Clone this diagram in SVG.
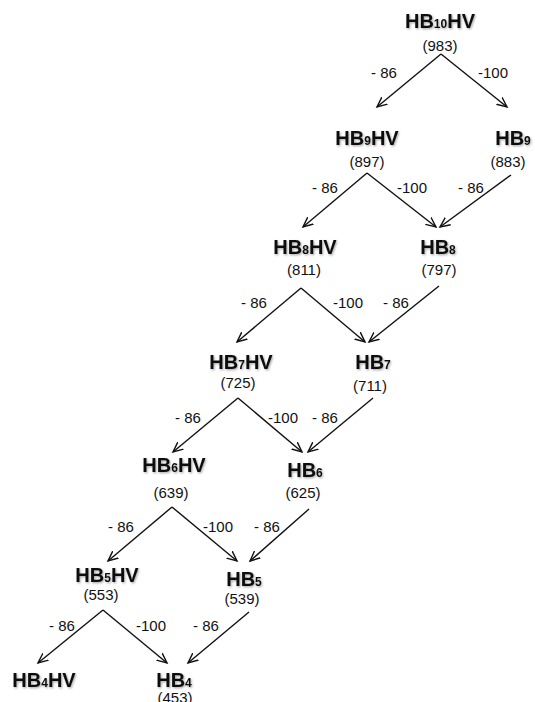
<svg xmlns="http://www.w3.org/2000/svg" width="535" height="702" viewBox="0 0 535 702">
  <style>
    .name { font-family: "Liberation Sans", Arial, sans-serif; font-weight: bold; font-size: 20px; fill: #111; text-anchor: middle; filter: url(#shadow); }
    .sub { font-size: 12px; }
    .val { font-family: "Liberation Sans", Arial, sans-serif; font-size: 15px; fill: #111; text-anchor: middle; }
    .lbl { font-family: "Liberation Sans", Arial, sans-serif; font-size: 15px; fill: #111; text-anchor: middle; }
    .edge { stroke: #111; stroke-width: 1.4; fill: none; marker-end: url(#arrow); }
  </style>
  <defs>
    <filter id="shadow" x="-20%" y="-30%" width="140%" height="160%">
      <feDropShadow dx="1" dy="1.2" stdDeviation="1" flood-color="#000" flood-opacity="0.35"/>
    </filter>
    <marker id="arrow" markerWidth="12" markerHeight="12" refX="10" refY="5" orient="auto" markerUnits="userSpaceOnUse" viewBox="0 0 12 10">
      <path d="M0,0.5 L10,5 L0,9.5" fill="none" stroke="#111" stroke-width="1.4"/>
    </marker>
  </defs>
  <rect width="535" height="702" fill="#fff"/>

  <!-- connectors -->
  <g id="connectors">
    <line class="edge" x1="441" y1="54" x2="377" y2="107"/>
    <line class="edge" x1="441" y1="54" x2="507" y2="107"/>

    <line class="edge" x1="367" y1="173" x2="303" y2="227"/>
    <line class="edge" x1="367" y1="173" x2="436" y2="227"/>
    <line class="edge" x1="511" y1="175" x2="440" y2="227"/>

    <line class="edge" x1="301" y1="288" x2="237" y2="342"/>
    <line class="edge" x1="301" y1="288" x2="365" y2="342"/>
    <line class="edge" x1="439" y1="286" x2="369" y2="342"/>

    <line class="edge" x1="238" y1="398" x2="173" y2="452"/>
    <line class="edge" x1="238" y1="398" x2="302" y2="452"/>
    <line class="edge" x1="373" y1="398" x2="308" y2="452"/>

    <line class="edge" x1="172" y1="507" x2="108" y2="561"/>
    <line class="edge" x1="172" y1="507" x2="237" y2="561"/>
    <line class="edge" x1="309" y1="509" x2="250" y2="561"/>

    <line class="edge" x1="103" y1="610" x2="38" y2="663"/>
    <line class="edge" x1="103" y1="610" x2="167" y2="663"/>
    <line class="edge" x1="249" y1="612" x2="188" y2="663"/>

    <!-- edge weights -->
    <text class="lbl" x="384" y="78">- 86</text>
    <text class="lbl" x="493" y="78">-100</text>

    <text class="lbl" x="325" y="193">- 86</text>
    <text class="lbl" x="412" y="193">-100</text>
    <text class="lbl" x="471" y="193">- 86</text>

    <text class="lbl" x="254" y="308">- 86</text>
    <text class="lbl" x="348" y="308">-100</text>
    <text class="lbl" x="396" y="308">- 86</text>

    <text class="lbl" x="188" y="423">- 86</text>
    <text class="lbl" x="283" y="423">-100</text>
    <text class="lbl" x="325" y="423">- 86</text>

    <text class="lbl" x="121" y="532">- 86</text>
    <text class="lbl" x="218" y="532">-100</text>
    <text class="lbl" x="267" y="532">- 86</text>

    <text class="lbl" x="62" y="631">- 86</text>
    <text class="lbl" x="151" y="631">-100</text>
    <text class="lbl" x="206" y="631">- 86</text>
  </g>

  <!-- nodes -->
  <g id="hb10hv">
    <text class="name" x="440" y="28">HB<tspan class="sub">10</tspan>HV</text>
    <text class="val" x="440" y="51">(983)</text>
  </g>
  <g id="hb9hv">
    <text class="name" x="367" y="145">HB<tspan class="sub">9</tspan>HV</text>
    <text class="val" x="367" y="167">(897)</text>
  </g>
  <g id="hb9">
    <text class="name" x="513" y="145">HB<tspan class="sub">9</tspan></text>
    <text class="val" x="508" y="167">(883)</text>
  </g>
  <g id="hb8hv">
    <text class="name" x="305" y="254">HB<tspan class="sub">8</tspan>HV</text>
    <text class="val" x="304" y="275">(811)</text>
  </g>
  <g id="hb8">
    <text class="name" x="438" y="254">HB<tspan class="sub">8</tspan></text>
    <text class="val" x="439" y="275">(797)</text>
  </g>
  <g id="hb7hv">
    <text class="name" x="241" y="369">HB<tspan class="sub">7</tspan>HV</text>
    <text class="val" x="238" y="388">(725)</text>
  </g>
  <g id="hb7">
    <text class="name" x="373" y="369">HB<tspan class="sub">7</tspan></text>
    <text class="val" x="370" y="391">(711)</text>
  </g>
  <g id="hb6hv">
    <text class="name" x="174" y="472">HB<tspan class="sub">6</tspan>HV</text>
    <text class="val" x="171" y="498">(639)</text>
  </g>
  <g id="hb6">
    <text class="name" x="305" y="477">HB<tspan class="sub">6</tspan></text>
    <text class="val" x="303" y="498">(625)</text>
  </g>
  <g id="hb5hv">
    <text class="name" x="107" y="582">HB<tspan class="sub">5</tspan>HV</text>
    <text class="val" x="101" y="600">(553)</text>
  </g>
  <g id="hb5">
    <text class="name" x="244" y="586">HB<tspan class="sub">5</tspan></text>
    <text class="val" x="242" y="604">(539)</text>
  </g>
  <g id="hb4hv">
    <text class="name" x="44" y="687">HB<tspan class="sub">4</tspan>HV</text>
  </g>
  <g id="hb4">
    <text class="name" x="174" y="687">HB<tspan class="sub">4</tspan></text>
    <text class="val" x="175" y="703">(453)</text>
  </g>
</svg>
